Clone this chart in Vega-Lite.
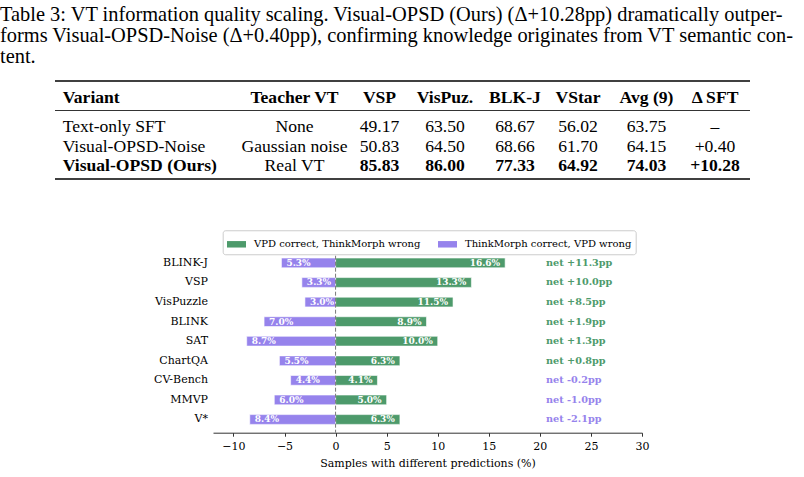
{
  "$schema": "https://vega.github.io/schema/vega-lite/v6.json",
  "background": "white",
  "padding": {"left": 0, "top": 5, "right": 0, "bottom": 0},
  "config": {
    "view": {"stroke": null},
    "style": {
      "cell": {"font": "Liberation Serif", "fontSize": 17.6, "color": "black", "baseline": "middle", "dy": 2},
      "cellb": {"font": "Liberation Serif", "fontSize": 17.6, "color": "black", "baseline": "middle", "fontWeight": "bold", "dy": 2},
      "cellL": {"font": "Liberation Serif", "fontSize": 17.6, "color": "black", "baseline": "middle", "align": "left", "dx": 7.7, "dy": 2},
      "cellLb": {"font": "Liberation Serif", "fontSize": 17.6, "color": "black", "baseline": "middle", "align": "left", "dx": 7.7, "dy": 2, "fontWeight": "bold"},
      "thick": {"color": "black", "strokeWidth": 1.3},
      "thin": {"color": "black", "strokeWidth": 0.8}
    }
  },
  "title": {
    "text": [
      "Table 3: VT information quality scaling. Visual-OPSD (Ours) (Δ+10.28pp) dramatically outper-",
      "forms Visual-OPSD-Noise (Δ+0.40pp), confirming knowledge originates from VT semantic con-",
      "tent."
    ],
    "anchor": "start",
    "frame": "group",
    "font": "Liberation Serif",
    "fontSize": 20.4,
    "fontWeight": "normal",
    "color": "black",
    "lineHeight": 21,
    "offset": 12.75
  },
  "datasets": {
    "cells": [
      {"row": "header", "col": "Variant", "text": "Variant"},
      {"row": "header", "col": "Teacher VT", "text": "Teacher VT"},
      {"row": "header", "col": "VSP", "text": "VSP"},
      {"row": "header", "col": "VisPuz.", "text": "VisPuz."},
      {"row": "header", "col": "BLK-J", "text": "BLK-J"},
      {"row": "header", "col": "VStar", "text": "VStar"},
      {"row": "header", "col": "Avg (9)", "text": "Avg (9)"},
      {"row": "header", "col": "dSFT", "text": "Δ SFT"},
      {"row": "Text-only SFT", "col": "Variant", "text": "Text-only SFT"},
      {"row": "Text-only SFT", "col": "Teacher VT", "text": "None"},
      {"row": "Text-only SFT", "col": "VSP", "text": "49.17"},
      {"row": "Text-only SFT", "col": "VisPuz.", "text": "63.50"},
      {"row": "Text-only SFT", "col": "BLK-J", "text": "68.67"},
      {"row": "Text-only SFT", "col": "VStar", "text": "56.02"},
      {"row": "Text-only SFT", "col": "Avg (9)", "text": "63.75"},
      {"row": "Text-only SFT", "col": "dSFT", "text": "–"},
      {"row": "Visual-OPSD-Noise", "col": "Variant", "text": "Visual-OPSD-Noise"},
      {"row": "Visual-OPSD-Noise", "col": "Teacher VT", "text": "Gaussian noise"},
      {"row": "Visual-OPSD-Noise", "col": "VSP", "text": "50.83"},
      {"row": "Visual-OPSD-Noise", "col": "VisPuz.", "text": "64.50"},
      {"row": "Visual-OPSD-Noise", "col": "BLK-J", "text": "68.66"},
      {"row": "Visual-OPSD-Noise", "col": "VStar", "text": "61.70"},
      {"row": "Visual-OPSD-Noise", "col": "Avg (9)", "text": "64.15"},
      {"row": "Visual-OPSD-Noise", "col": "dSFT", "text": "+0.40"},
      {"row": "Visual-OPSD (Ours)", "col": "Variant", "text": "Visual-OPSD (Ours)"},
      {"row": "Visual-OPSD (Ours)", "col": "Teacher VT", "text": "Real VT"},
      {"row": "Visual-OPSD (Ours)", "col": "VSP", "text": "85.83"},
      {"row": "Visual-OPSD (Ours)", "col": "VisPuz.", "text": "86.00"},
      {"row": "Visual-OPSD (Ours)", "col": "BLK-J", "text": "77.33"},
      {"row": "Visual-OPSD (Ours)", "col": "VStar", "text": "64.92"},
      {"row": "Visual-OPSD (Ours)", "col": "Avg (9)", "text": "74.03"},
      {"row": "Visual-OPSD (Ours)", "col": "dSFT", "text": "+10.28"}
    ],
    "gaps": [
      {"benchmark": "BLINK-J", "outcome": "VPD correct, ThinkMorph wrong", "share": 16.6},
      {"benchmark": "BLINK-J", "outcome": "ThinkMorph correct, VPD wrong", "share": 5.3},
      {"benchmark": "VSP", "outcome": "VPD correct, ThinkMorph wrong", "share": 13.3},
      {"benchmark": "VSP", "outcome": "ThinkMorph correct, VPD wrong", "share": 3.3},
      {"benchmark": "VisPuzzle", "outcome": "VPD correct, ThinkMorph wrong", "share": 11.5},
      {"benchmark": "VisPuzzle", "outcome": "ThinkMorph correct, VPD wrong", "share": 3.0},
      {"benchmark": "BLINK", "outcome": "VPD correct, ThinkMorph wrong", "share": 8.9},
      {"benchmark": "BLINK", "outcome": "ThinkMorph correct, VPD wrong", "share": 7.0},
      {"benchmark": "SAT", "outcome": "VPD correct, ThinkMorph wrong", "share": 10.0},
      {"benchmark": "SAT", "outcome": "ThinkMorph correct, VPD wrong", "share": 8.7},
      {"benchmark": "ChartQA", "outcome": "VPD correct, ThinkMorph wrong", "share": 6.3},
      {"benchmark": "ChartQA", "outcome": "ThinkMorph correct, VPD wrong", "share": 5.5},
      {"benchmark": "CV-Bench", "outcome": "VPD correct, ThinkMorph wrong", "share": 4.1},
      {"benchmark": "CV-Bench", "outcome": "ThinkMorph correct, VPD wrong", "share": 4.4},
      {"benchmark": "MMVP", "outcome": "VPD correct, ThinkMorph wrong", "share": 5.0},
      {"benchmark": "MMVP", "outcome": "ThinkMorph correct, VPD wrong", "share": 6.0},
      {"benchmark": "V*", "outcome": "VPD correct, ThinkMorph wrong", "share": 6.3},
      {"benchmark": "V*", "outcome": "ThinkMorph correct, VPD wrong", "share": 8.4}
    ],
    "nets": [
      {"benchmark": "BLINK-J", "net": 11.3},
      {"benchmark": "VSP", "net": 10.0},
      {"benchmark": "VisPuzzle", "net": 8.5},
      {"benchmark": "BLINK", "net": 1.9},
      {"benchmark": "SAT", "net": 1.3},
      {"benchmark": "ChartQA", "net": 0.8},
      {"benchmark": "CV-Bench", "net": -0.2},
      {"benchmark": "MMVP", "net": -1.0},
      {"benchmark": "V*", "net": -2.1}
    ]
  },
  "spacing": 68.7,
  "vconcat": [
    {
      "spacing": 0,
      "bounds": "flush",
      "hconcat": [
        {"width": 55, "height": 78, "data": {"values": []}, "mark": "text"},
        {
          "width": 178, "height": 78, "data": {"name": "cells"},
          "transform": [{"filter": {"field": "col", "equal": "Variant"}}],
          "encoding": {"y": {"field": "row", "type": "nominal", "bandPosition": 0.5, "scale": {"type": "band", "domain": ["header", "Text-only SFT", "Visual-OPSD-Noise", "Visual-OPSD (Ours)"], "paddingInner": 0, "paddingOuter": 0}, "axis": null}},
          "layer": [
            {"transform": [{"filter": {"field": "row", "oneOf": ["Text-only SFT", "Visual-OPSD-Noise"]}}], "mark": {"type": "text", "style": "cellL"}, "encoding": {"x": {"datum": 0, "type": "quantitative", "scale": {"domain": [0, 1]}, "axis": null}, "text": {"field": "text"}}},
            {"transform": [{"filter": {"field": "row", "equal": "Visual-OPSD (Ours)"}}], "mark": {"type": "text", "style": "cellLb"}, "encoding": {"x": {"datum": 0, "type": "quantitative", "scale": {"domain": [0, 1]}, "axis": null}, "text": {"field": "text"}}},
            {"transform": [{"filter": {"field": "row", "equal": "header"}}], "mark": {"type": "text", "style": "cellLb", "yOffset": -10}, "encoding": {"x": {"datum": 0, "type": "quantitative", "scale": {"domain": [0, 1]}, "axis": null}, "text": {"field": "text"}}},
            {"transform": [{"filter": {"field": "row", "equal": "header"}}], "mark": {"type": "rule", "style": "thick", "yOffset": -15}, "encoding": {"y": {"field": "row", "type": "nominal", "bandPosition": 0, "axis": null}}},
            {"transform": [{"filter": {"field": "row", "equal": "header"}}], "mark": {"type": "rule", "style": "thin", "yOffset": -5}, "encoding": {"y": {"field": "row", "type": "nominal", "bandPosition": 1, "axis": null}}},
            {"transform": [{"filter": {"field": "row", "equal": "Visual-OPSD (Ours)"}}], "mark": {"type": "rule", "style": "thick", "yOffset": 5}, "encoding": {"y": {"field": "row", "type": "nominal", "bandPosition": 1, "axis": null}}}
          ]
        },
        {
          "width": 123, "height": 78, "data": {"name": "cells"},
          "transform": [{"filter": {"field": "col", "equal": "Teacher VT"}}],
          "encoding": {"y": {"field": "row", "type": "nominal", "bandPosition": 0.5, "scale": {"type": "band", "domain": ["header", "Text-only SFT", "Visual-OPSD-Noise", "Visual-OPSD (Ours)"], "paddingInner": 0, "paddingOuter": 0}, "axis": null}},
          "layer": [
            {"transform": [{"filter": {"field": "row", "oneOf": ["Text-only SFT", "Visual-OPSD-Noise", "Visual-OPSD (Ours)"]}}], "mark": {"type": "text", "style": "cell"}, "encoding": {"text": {"field": "text"}}},
            {"transform": [{"filter": {"field": "row", "equal": "header"}}], "mark": {"type": "text", "style": "cellb", "yOffset": -10}, "encoding": {"text": {"field": "text"}}},
            {"transform": [{"filter": {"field": "row", "equal": "header"}}], "mark": {"type": "rule", "style": "thick", "yOffset": -15}, "encoding": {"y": {"field": "row", "type": "nominal", "bandPosition": 0, "axis": null}}},
            {"transform": [{"filter": {"field": "row", "equal": "header"}}], "mark": {"type": "rule", "style": "thin", "yOffset": -5}, "encoding": {"y": {"field": "row", "type": "nominal", "bandPosition": 1, "axis": null}}},
            {"transform": [{"filter": {"field": "row", "equal": "Visual-OPSD (Ours)"}}], "mark": {"type": "rule", "style": "thick", "yOffset": 5}, "encoding": {"y": {"field": "row", "type": "nominal", "bandPosition": 1, "axis": null}}}
          ]
        },
        {
          "width": 47, "height": 78, "data": {"name": "cells"},
          "transform": [{"filter": {"field": "col", "equal": "VSP"}}],
          "encoding": {"y": {"field": "row", "type": "nominal", "bandPosition": 0.5, "scale": {"type": "band", "domain": ["header", "Text-only SFT", "Visual-OPSD-Noise", "Visual-OPSD (Ours)"], "paddingInner": 0, "paddingOuter": 0}, "axis": null}},
          "layer": [
            {"transform": [{"filter": {"field": "row", "oneOf": ["Text-only SFT", "Visual-OPSD-Noise"]}}], "mark": {"type": "text", "style": "cell"}, "encoding": {"text": {"field": "text"}}},
            {"transform": [{"filter": {"field": "row", "equal": "Visual-OPSD (Ours)"}}], "mark": {"type": "text", "style": "cellb"}, "encoding": {"text": {"field": "text"}}},
            {"transform": [{"filter": {"field": "row", "equal": "header"}}], "mark": {"type": "text", "style": "cellb", "yOffset": -10}, "encoding": {"text": {"field": "text"}}},
            {"transform": [{"filter": {"field": "row", "equal": "header"}}], "mark": {"type": "rule", "style": "thick", "yOffset": -15}, "encoding": {"y": {"field": "row", "type": "nominal", "bandPosition": 0, "axis": null}}},
            {"transform": [{"filter": {"field": "row", "equal": "header"}}], "mark": {"type": "rule", "style": "thin", "yOffset": -5}, "encoding": {"y": {"field": "row", "type": "nominal", "bandPosition": 1, "axis": null}}},
            {"transform": [{"filter": {"field": "row", "equal": "Visual-OPSD (Ours)"}}], "mark": {"type": "rule", "style": "thick", "yOffset": 5}, "encoding": {"y": {"field": "row", "type": "nominal", "bandPosition": 1, "axis": null}}}
          ]
        },
        {
          "width": 84, "height": 78, "data": {"name": "cells"},
          "transform": [{"filter": {"field": "col", "equal": "VisPuz."}}],
          "encoding": {"y": {"field": "row", "type": "nominal", "bandPosition": 0.5, "scale": {"type": "band", "domain": ["header", "Text-only SFT", "Visual-OPSD-Noise", "Visual-OPSD (Ours)"], "paddingInner": 0, "paddingOuter": 0}, "axis": null}},
          "layer": [
            {"transform": [{"filter": {"field": "row", "oneOf": ["Text-only SFT", "Visual-OPSD-Noise"]}}], "mark": {"type": "text", "style": "cell"}, "encoding": {"text": {"field": "text"}}},
            {"transform": [{"filter": {"field": "row", "equal": "Visual-OPSD (Ours)"}}], "mark": {"type": "text", "style": "cellb"}, "encoding": {"text": {"field": "text"}}},
            {"transform": [{"filter": {"field": "row", "equal": "header"}}], "mark": {"type": "text", "style": "cellb", "yOffset": -10}, "encoding": {"text": {"field": "text"}}},
            {"transform": [{"filter": {"field": "row", "equal": "header"}}], "mark": {"type": "rule", "style": "thick", "yOffset": -15}, "encoding": {"y": {"field": "row", "type": "nominal", "bandPosition": 0, "axis": null}}},
            {"transform": [{"filter": {"field": "row", "equal": "header"}}], "mark": {"type": "rule", "style": "thin", "yOffset": -5}, "encoding": {"y": {"field": "row", "type": "nominal", "bandPosition": 1, "axis": null}}},
            {"transform": [{"filter": {"field": "row", "equal": "Visual-OPSD (Ours)"}}], "mark": {"type": "rule", "style": "thick", "yOffset": 5}, "encoding": {"y": {"field": "row", "type": "nominal", "bandPosition": 1, "axis": null}}}
          ]
        },
        {
          "width": 56, "height": 78, "data": {"name": "cells"},
          "transform": [{"filter": {"field": "col", "equal": "BLK-J"}}],
          "encoding": {"y": {"field": "row", "type": "nominal", "bandPosition": 0.5, "scale": {"type": "band", "domain": ["header", "Text-only SFT", "Visual-OPSD-Noise", "Visual-OPSD (Ours)"], "paddingInner": 0, "paddingOuter": 0}, "axis": null}},
          "layer": [
            {"transform": [{"filter": {"field": "row", "oneOf": ["Text-only SFT", "Visual-OPSD-Noise"]}}], "mark": {"type": "text", "style": "cell"}, "encoding": {"text": {"field": "text"}}},
            {"transform": [{"filter": {"field": "row", "equal": "Visual-OPSD (Ours)"}}], "mark": {"type": "text", "style": "cellb"}, "encoding": {"text": {"field": "text"}}},
            {"transform": [{"filter": {"field": "row", "equal": "header"}}], "mark": {"type": "text", "style": "cellb", "yOffset": -10}, "encoding": {"text": {"field": "text"}}},
            {"transform": [{"filter": {"field": "row", "equal": "header"}}], "mark": {"type": "rule", "style": "thick", "yOffset": -15}, "encoding": {"y": {"field": "row", "type": "nominal", "bandPosition": 0, "axis": null}}},
            {"transform": [{"filter": {"field": "row", "equal": "header"}}], "mark": {"type": "rule", "style": "thin", "yOffset": -5}, "encoding": {"y": {"field": "row", "type": "nominal", "bandPosition": 1, "axis": null}}},
            {"transform": [{"filter": {"field": "row", "equal": "Visual-OPSD (Ours)"}}], "mark": {"type": "rule", "style": "thick", "yOffset": 5}, "encoding": {"y": {"field": "row", "type": "nominal", "bandPosition": 1, "axis": null}}}
          ]
        },
        {
          "width": 70, "height": 78, "data": {"name": "cells"},
          "transform": [{"filter": {"field": "col", "equal": "VStar"}}],
          "encoding": {"y": {"field": "row", "type": "nominal", "bandPosition": 0.5, "scale": {"type": "band", "domain": ["header", "Text-only SFT", "Visual-OPSD-Noise", "Visual-OPSD (Ours)"], "paddingInner": 0, "paddingOuter": 0}, "axis": null}},
          "layer": [
            {"transform": [{"filter": {"field": "row", "oneOf": ["Text-only SFT", "Visual-OPSD-Noise"]}}], "mark": {"type": "text", "style": "cell"}, "encoding": {"text": {"field": "text"}}},
            {"transform": [{"filter": {"field": "row", "equal": "Visual-OPSD (Ours)"}}], "mark": {"type": "text", "style": "cellb"}, "encoding": {"text": {"field": "text"}}},
            {"transform": [{"filter": {"field": "row", "equal": "header"}}], "mark": {"type": "text", "style": "cellb", "yOffset": -10}, "encoding": {"text": {"field": "text"}}},
            {"transform": [{"filter": {"field": "row", "equal": "header"}}], "mark": {"type": "rule", "style": "thick", "yOffset": -15}, "encoding": {"y": {"field": "row", "type": "nominal", "bandPosition": 0, "axis": null}}},
            {"transform": [{"filter": {"field": "row", "equal": "header"}}], "mark": {"type": "rule", "style": "thin", "yOffset": -5}, "encoding": {"y": {"field": "row", "type": "nominal", "bandPosition": 1, "axis": null}}},
            {"transform": [{"filter": {"field": "row", "equal": "Visual-OPSD (Ours)"}}], "mark": {"type": "rule", "style": "thick", "yOffset": 5}, "encoding": {"y": {"field": "row", "type": "nominal", "bandPosition": 1, "axis": null}}}
          ]
        },
        {
          "width": 67, "height": 78, "data": {"name": "cells"},
          "transform": [{"filter": {"field": "col", "equal": "Avg (9)"}}],
          "encoding": {"y": {"field": "row", "type": "nominal", "bandPosition": 0.5, "scale": {"type": "band", "domain": ["header", "Text-only SFT", "Visual-OPSD-Noise", "Visual-OPSD (Ours)"], "paddingInner": 0, "paddingOuter": 0}, "axis": null}},
          "layer": [
            {"transform": [{"filter": {"field": "row", "oneOf": ["Text-only SFT", "Visual-OPSD-Noise"]}}], "mark": {"type": "text", "style": "cell"}, "encoding": {"text": {"field": "text"}}},
            {"transform": [{"filter": {"field": "row", "equal": "Visual-OPSD (Ours)"}}], "mark": {"type": "text", "style": "cellb"}, "encoding": {"text": {"field": "text"}}},
            {"transform": [{"filter": {"field": "row", "equal": "header"}}], "mark": {"type": "text", "style": "cellb", "yOffset": -10}, "encoding": {"text": {"field": "text"}}},
            {"transform": [{"filter": {"field": "row", "equal": "header"}}], "mark": {"type": "rule", "style": "thick", "yOffset": -15}, "encoding": {"y": {"field": "row", "type": "nominal", "bandPosition": 0, "axis": null}}},
            {"transform": [{"filter": {"field": "row", "equal": "header"}}], "mark": {"type": "rule", "style": "thin", "yOffset": -5}, "encoding": {"y": {"field": "row", "type": "nominal", "bandPosition": 1, "axis": null}}},
            {"transform": [{"filter": {"field": "row", "equal": "Visual-OPSD (Ours)"}}], "mark": {"type": "rule", "style": "thick", "yOffset": 5}, "encoding": {"y": {"field": "row", "type": "nominal", "bandPosition": 1, "axis": null}}}
          ]
        },
        {
          "width": 70, "height": 78, "data": {"name": "cells"},
          "transform": [{"filter": {"field": "col", "equal": "dSFT"}}],
          "encoding": {"y": {"field": "row", "type": "nominal", "bandPosition": 0.5, "scale": {"type": "band", "domain": ["header", "Text-only SFT", "Visual-OPSD-Noise", "Visual-OPSD (Ours)"], "paddingInner": 0, "paddingOuter": 0}, "axis": null}},
          "layer": [
            {"transform": [{"filter": {"field": "row", "oneOf": ["Text-only SFT", "Visual-OPSD-Noise"]}}], "mark": {"type": "text", "style": "cell"}, "encoding": {"text": {"field": "text"}}},
            {"transform": [{"filter": {"field": "row", "equal": "Visual-OPSD (Ours)"}}], "mark": {"type": "text", "style": "cellb"}, "encoding": {"text": {"field": "text"}}},
            {"transform": [{"filter": {"field": "row", "equal": "header"}}], "mark": {"type": "text", "style": "cellb", "yOffset": -10}, "encoding": {"text": {"field": "text"}}},
            {"transform": [{"filter": {"field": "row", "equal": "header"}}], "mark": {"type": "rule", "style": "thick", "yOffset": -15}, "encoding": {"y": {"field": "row", "type": "nominal", "bandPosition": 0, "axis": null}}},
            {"transform": [{"filter": {"field": "row", "equal": "header"}}], "mark": {"type": "rule", "style": "thin", "yOffset": -5}, "encoding": {"y": {"field": "row", "type": "nominal", "bandPosition": 1, "axis": null}}},
            {"transform": [{"filter": {"field": "row", "equal": "Visual-OPSD (Ours)"}}], "mark": {"type": "rule", "style": "thick", "yOffset": 5}, "encoding": {"y": {"field": "row", "type": "nominal", "bandPosition": 1, "axis": null}}}
          ]
        }
      ]
    },
    {
      "spacing": 5,
      "hconcat": [
        {
          "width": 208, "height": 183,
          "data": {"name": "nets"},
          "mark": {"type": "text", "align": "right", "baseline": "middle", "font": "DejaVu Serif", "fontSize": 11, "color": "black"},
          "encoding": {
            "x": {"datum": 1, "type": "quantitative", "scale": {"domain": [0, 1]}, "axis": null},
            "y": {"field": "benchmark", "type": "nominal", "sort": null, "bandPosition": 0.5, "scale": {"type": "band", "domain": ["BLINK-J", "VSP", "VisPuzzle", "BLINK", "SAT", "ChartQA", "CV-Bench", "MMVP", "V*"], "paddingInner": 0.5, "paddingOuter": 0.425}, "axis": null},
            "text": {"field": "benchmark"}
          }
        },
        {
          "width": 429, "height": 183,
          "layer": [
            {
              "data": {"name": "gaps"},
              "transform": [{"calculate": "datum.outcome === 'ThinkMorph correct, VPD wrong' ? -datum.share : datum.share", "as": "signed"}],
              "mark": {"type": "bar", "stroke": "white", "strokeWidth": 0.6},
              "encoding": {
                "x": {"field": "signed", "type": "quantitative", "scale": {"domain": [-12, 30], "nice": false},
                  "axis": {"values": [-10, -5, 0, 5, 10, 15, 20, 25, 30], "grid": false, "title": "Samples with different predictions (%)",
                    "titleFont": "DejaVu Serif", "titleFontSize": 11, "titleFontWeight": "normal", "titleColor": "black", "titlePadding": 6,
                    "labelFont": "DejaVu Serif", "labelFontSize": 11, "labelColor": "black", "labelPadding": 4.5, "labelFlush": false, "labelOverlap": false,
                    "tickSize": 3.5, "tickColor": "#333333", "domainColor": "#333333", "tickWidth": 1, "domainWidth": 1}},
                "y": {"field": "benchmark", "type": "nominal", "sort": null, "scale": {"domain": ["BLINK-J", "VSP", "VisPuzzle", "BLINK", "SAT", "ChartQA", "CV-Bench", "MMVP", "V*"], "paddingInner": 0.5, "paddingOuter": 0.425}, "axis": null},
                "color": {"field": "outcome", "type": "nominal",
                  "scale": {"domain": ["VPD correct, ThinkMorph wrong", "ThinkMorph correct, VPD wrong"], "range": ["#4d9a6b", "#9683ec"]},
                  "legend": {"title": null, "orient": "none", "legendX": 222.7, "legendY": 134.25, "direction": "horizontal",
                    "symbolType": "M-1,-0.34H1V0.34H-1Z", "symbolSize": 361, "symbolStrokeWidth": 0, "symbolOpacity": 1,
                    "labelFont": "DejaVu Serif", "labelFontSize": 10, "labelColor": "black", "labelOffset": 8, "labelLimit": 300,
                    "columnPadding": 17, "padding": 4.3, "strokeColor": "#cccccc", "fillColor": "white", "cornerRadius": 2.5}}
              }
            },
            {
              "data": {"name": "gaps"},
              "transform": [
                {"filter": "datum.outcome === 'VPD correct, ThinkMorph wrong'"},
                {"calculate": "format(datum.share, '.1f') + '%'", "as": "label"}
              ],
              "mark": {"type": "text", "align": "right", "dx": -5, "baseline": "middle", "font": "DejaVu Serif", "fontSize": 9, "fontWeight": "bold", "color": "white"},
              "encoding": {
                "x": {"field": "share", "type": "quantitative"},
                "y": {"field": "benchmark", "type": "nominal", "sort": null},
                "text": {"field": "label"}
              }
            },
            {
              "data": {"name": "gaps"},
              "transform": [
                {"filter": "datum.outcome === 'ThinkMorph correct, VPD wrong'"},
                {"calculate": "-datum.share", "as": "signed"},
                {"calculate": "format(datum.share, '.1f') + '%'", "as": "label"}
              ],
              "mark": {"type": "text", "align": "left", "dx": 5, "baseline": "middle", "font": "DejaVu Serif", "fontSize": 9, "fontWeight": "bold", "color": "white"},
              "encoding": {
                "x": {"field": "signed", "type": "quantitative"},
                "y": {"field": "benchmark", "type": "nominal", "sort": null},
                "text": {"field": "label"}
              }
            },
            {
              "data": {"values": [{}]},
              "mark": {"type": "rule", "color": "#7a7a7a", "strokeWidth": 1, "strokeDash": [4, 2]},
              "encoding": {"x": {"datum": 0, "type": "quantitative"}}
            },
            {
              "data": {"name": "nets"},
              "transform": [
                {"filter": "datum.net >= 0"},
                {"calculate": "'net +' + format(datum.net, '.1f') + 'pp'", "as": "t"}
              ],
              "mark": {"type": "text", "align": "left", "baseline": "middle", "font": "DejaVu Serif", "fontSize": 9.7, "fontWeight": "bold", "color": "#4d9a6b"},
              "encoding": {
                "x": {"datum": 20.6, "type": "quantitative"},
                "y": {"field": "benchmark", "type": "nominal", "sort": null},
                "text": {"field": "t"}
              }
            },
            {
              "data": {"name": "nets"},
              "transform": [
                {"filter": "datum.net < 0"},
                {"calculate": "'net -' + format(-datum.net, '.1f') + 'pp'", "as": "t"}
              ],
              "mark": {"type": "text", "align": "left", "baseline": "middle", "font": "DejaVu Serif", "fontSize": 9.7, "fontWeight": "bold", "color": "#9683ec"},
              "encoding": {
                "x": {"datum": 20.6, "type": "quantitative"},
                "y": {"field": "benchmark", "type": "nominal", "sort": null},
                "text": {"field": "t"}
              }
            }
          ]
        }
      ]
    }
  ]
}
